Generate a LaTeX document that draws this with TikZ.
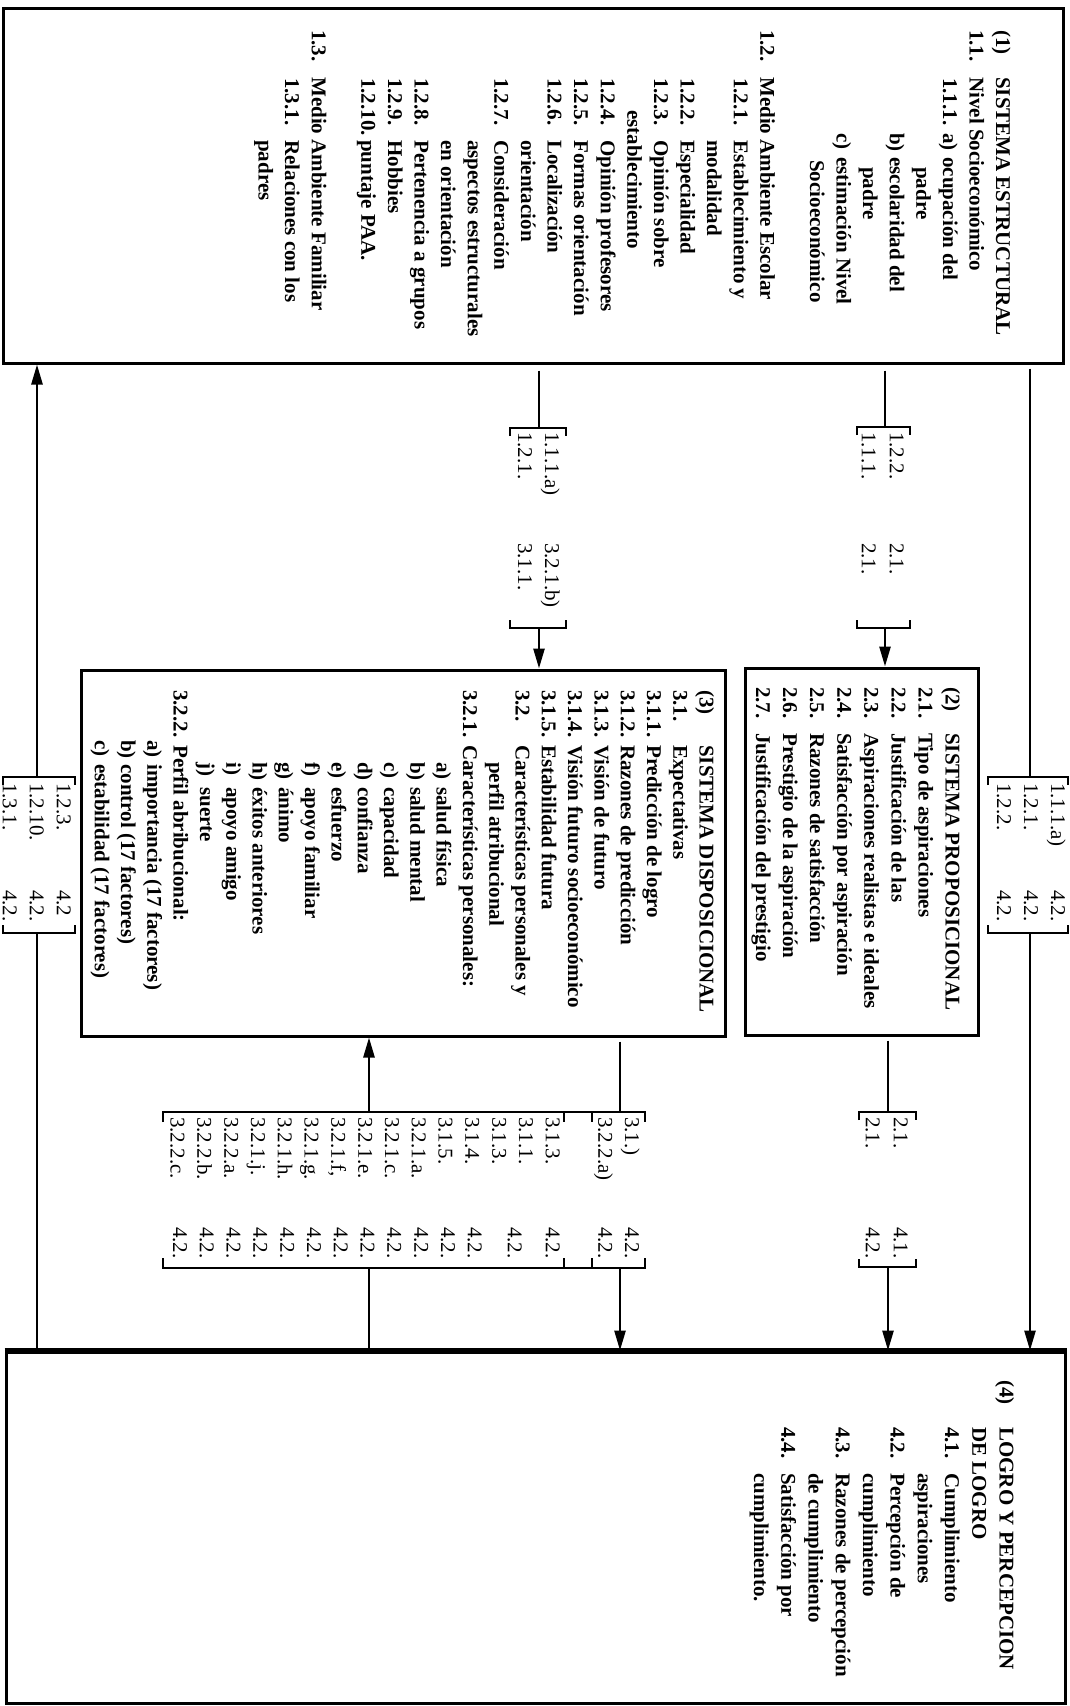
\documentclass[tikz,border=0pt]{standalone}
\usepackage{fontspec}
\setmainfont{Liberation Serif}
\usetikzlibrary{arrows.meta}
\newcommand\numbox[2]{\makebox[#1pt][l]{#2}}
\begin{document}
\begin{tikzpicture}[x=1pt,y=-1pt,
  boxframe/.style={draw, line width=3pt, inner sep=0pt},
  boxtext/.style={rotate=-90, anchor=north west, inner sep=0pt, align=left, font=\fontsize{21}{#1}\selectfont\bfseries},
  labeltext/.style={rotate=-90, anchor=north west, inner sep=0pt, align=left, font=\fontsize{21}{#1}\selectfont},
  conn/.style={line width=2.6pt},
  arr/.style={line width=2.6pt, -{Triangle[length=20pt,width=11pt]}},
  brk/.style={line width=1.8pt},
]
\fill[white] (0,0) rectangle (1070,1706);
\useasboundingbox (0,0) rectangle (1070,1706);

% boxes
\node[boxframe, minimum width=1060pt, minimum height=355pt] (b1) at (533,185.5) {};
\node[boxframe, minimum width=233pt, minimum height=367pt] (b2) at (861.5,851.5) {};
\node[boxframe, minimum width=644pt, minimum height=366pt] (b3) at (403,853) {};
\node[boxframe, minimum width=1059pt, minimum height=351pt] (b4) at (535.5,1527.5) {};
\draw[line width=4.5pt] (b4.north west) -- (b4.north east);

% box texts
\node[boxtext=26.6] (t1) at (1011,30) {%
\numbox{47}{(1)}SISTEMA ESTRUCTURAL\\
\numbox{47}{1.1.}Nivel Socioeconómico\\
\hspace*{48pt}\numbox{55}{1.1.1.}\numbox{24}{a)}ocupación del\\
\hspace*{137pt}padre\\
\hspace*{103pt}\numbox{24}{b)}escolaridad del\\
\hspace*{137pt}padre\\
\hspace*{103pt}\numbox{24}{c)}estimación Nivel\\
\hspace*{130pt}Socioeconómico\\[23pt]
\numbox{47}{1.2.}Medio Ambiente Escolar\\
\hspace*{48pt}\numbox{62}{1.2.1.}Establecimiento y\\
\hspace*{110pt}modalidad\\
\hspace*{48pt}\numbox{62}{1.2.2.}Especialidad\\
\hspace*{48pt}\numbox{62}{1.2.3.}Opinión sobre\\
\hspace*{80pt}establecimiento\\
\hspace*{48pt}\numbox{62}{1.2.4.}Opinión profesores\\
\hspace*{48pt}\numbox{62}{1.2.5.}Formas orientación\\
\hspace*{48pt}\numbox{62}{1.2.6.}Localización\\
\hspace*{110pt}orientación\\
\hspace*{48pt}\numbox{62}{1.2.7.}Consideración\\
\hspace*{110pt}aspectos estructurales\\
\hspace*{110pt}en orientación\\
\hspace*{48pt}\numbox{62}{1.2.8.}Pertenencia a grupos\\
\hspace*{48pt}\numbox{62}{1.2.9.}Hobbies\\
\hspace*{48pt}\numbox{62}{1.2.10.}puntaje PAA.\\[23pt]
\numbox{47}{1.3.}Medio Ambiente Familiar\\
\hspace*{48pt}\numbox{62}{1.3.1.}Relaciones con los\\
\hspace*{110pt}padres};

\node[boxtext=27.1] (t2) at (960.5,687) {%
\numbox{46}{(2)}SISTEMA PROPOSICIONAL\\
\numbox{46}{2.1.}Tipo de aspiraciones\\
\numbox{46}{2.2.}Justificación de las\\
\numbox{46}{2.3.}Aspiraciones realistas e ideales\\
\numbox{46}{2.4.}Satisfacción por aspiración\\
\numbox{46}{2.5.}Razones de satisfacción\\
\numbox{46}{2.6.}Prestigio de la aspiración\\
\numbox{46}{2.7.}Justificación del prestigio};

\node[boxtext=26.3] (t3) at (714.5,690) {%
\numbox{55}{(3)}SISTEMA DISPOSICIONAL\\
\numbox{55}{3.1.}Expectativas\\
\numbox{55}{3.1.1.}Predicción de logro\\
\numbox{55}{3.1.2.}Razones de predicción\\
\numbox{55}{3.1.3.}Visión de futuro\\
\numbox{55}{3.1.4.}Visión futuro socioeconómico\\
\numbox{55}{3.1.5.}Estabilidad futura\\
\numbox{55}{3.2.}Características personales y\\
\hspace*{72pt}perfil atribucional\\
\numbox{55}{3.2.1.}Características personales:\\
\hspace*{72pt}\numbox{25}{a)}salud física\\
\hspace*{72pt}\numbox{25}{b)}salud mental\\
\hspace*{72pt}\numbox{25}{c)}capacidad\\
\hspace*{72pt}\numbox{25}{d)}confianza\\
\hspace*{72pt}\numbox{25}{e)}esfuerzo\\
\hspace*{72pt}\numbox{25}{f)}apoyo familiar\\
\hspace*{72pt}\numbox{25}{g)}ánimo\\
\hspace*{72pt}\numbox{25}{h)}éxitos anteriores\\
\hspace*{72pt}\numbox{25}{i)}apoyo amigo\\
\hspace*{72pt}\numbox{25}{j)}suerte\\
\numbox{55}{3.2.2.}Perfil abribucional:\\
\hspace*{50pt}\numbox{24}{a)}importancia (17 factores)\\
\hspace*{50pt}\numbox{24}{b)}control (17 factores)\\
\hspace*{50pt}\numbox{24}{c)}estabilidad (17 factores)};

\node[boxtext=27.3] (t4) at (1014.5,1380) {%
\numbox{47}{(4)}LOGRO Y PERCEPCION\\
\hspace*{47pt}DE LOGRO\\
\hspace*{47pt}\numbox{46}{4.1.}Cumplimiento\\
\hspace*{93pt}aspiraciones\\
\hspace*{47pt}\numbox{46}{4.2.}Percepción de\\
\hspace*{93pt}cumplimiento\\
\hspace*{47pt}\numbox{46}{4.3.}Razones de percepción\\
\hspace*{93pt}de cumplimiento\\
\hspace*{47pt}\numbox{46}{4.4.}Satisfacción por\\
\hspace*{93pt}cumplimiento.};

% labels
\node[labeltext=27] (l1) at (1066,783) {\numbox{107}{1.1.1.a)}4.2.\\\numbox{107}{1.2.1.}4.2.\\\numbox{107}{1.2.2.}4.2.};
\node[labeltext=28] (l2) at (904,432) {\numbox{111}{1.2.2.}2.1.\\\numbox{111}{1.1.1.}2.1.};
\node[labeltext=27] (l3) at (560,432) {\numbox{111}{1.1.1.a)}3.2.1.b)\\\numbox{111}{1.2.1.}3.1.1.};
\node[labeltext=27] (l4) at (71,783) {\numbox{107}{1.2.3.}4.2\\\numbox{107}{1.2.10.}4.2.\\\numbox{107}{1.3.1.}4.2.};
\node[labeltext=28] (l5) at (908,1117) {\numbox{110}{2.1.}4.1.\\\numbox{110}{2.1.}4.2.};
\node[labeltext=26.8] (l6) at (640,1117) {\numbox{110}{3.1.)}4.2.\\\numbox{110}{3.2.2.a)}4.2.};
\node[labeltext=26.8] (l7) at (560,1117) {3.1.3.\\3.1.1.\\3.1.3.\\3.1.4.\\3.1.5.\\3.2.1.a.\\3.2.1.c.\\3.2.1.e.\\3.2.1.f,\\3.2.1.g.\\3.2.1.h.\\3.2.1.j.\\3.2.2.a.\\3.2.2.b.\\3.2.2.c.};
\node[labeltext=26.8] (l7r) at (560,1227) {4.2.\\[11.2pt]4.2.\\[13.2pt]4.2.\\4.2.\\4.2.\\4.2.\\4.2.\\4.2.\\4.2.\\4.2.\\4.2.\\4.2.\\4.2.\\4.2.};

% bracket attachment points
\coordinate (k1t) at (1030,777); \coordinate (k1b) at (1030,933);
\coordinate (k2t) at (885,427);  \coordinate (k2b) at (885,628);
\coordinate (k3t) at (539,428);  \coordinate (k3b) at (539,628);
\coordinate (k4t) at (37,777);   \coordinate (k4b) at (37,933);
\coordinate (k5t) at (888,1112); \coordinate (k5b) at (888,1267);
\coordinate (k6t) at (620,1112); \coordinate (k6b) at (620,1268);
\coordinate (k7t) at (369,1112); \coordinate (k7b) at (369,1268);

% brackets
\draw[brk] (988,785) -- (988,777) -- (1068,777) -- (1068,785);
\draw[brk] (988,925) -- (988,933) -- (1068,933) -- (1068,925);
\draw[brk] (857,435) -- (857,427) -- (910,427) -- (910,435);
\draw[brk] (857,620) -- (857,628) -- (910,628) -- (910,620);
\draw[brk] (510,436) -- (510,428) -- (566,428) -- (566,436);
\draw[brk] (510,620) -- (510,628) -- (566,628) -- (566,620);
\draw[brk] (3,785) -- (3,777) -- (75,777) -- (75,785);
\draw[brk] (3,925) -- (3,933) -- (75,933) -- (75,925);
\draw[brk] (859,1120) -- (859,1112) -- (916,1112) -- (916,1120);
\draw[brk] (859,1259) -- (859,1267) -- (916,1267) -- (916,1259);
\draw[brk] (163,1122) -- (163,1112) -- (645,1112) -- (645,1122);
\draw[brk] (163,1258) -- (163,1268) -- (645,1268) -- (645,1258);
\draw[brk] (564,1112) -- (564,1122); \draw[brk] (592,1112) -- (592,1122);
\draw[brk] (564,1268) -- (564,1258); \draw[brk] (592,1268) -- (592,1258);

% connectors
\draw[conn, shorten <=4pt] (b1.south -| k1t) -- (k1t);
\draw[arr] (k1b) -- (b4.north -| k1b);
\draw[conn, shorten <=6pt] (b1.south -| k2t) -- (k2t);
\draw[arr] (k2b) -- (b2.north -| k2b);
\draw[conn, shorten <=6pt] (b1.south -| k3t) -- (k3t);
\draw[arr] (k3b) -- (b3.north -| k3b);
\draw[conn] (b4.north -| k4b) -- (k4b);
\draw[arr] (k4t) -- (b1.south -| k4t);
\draw[conn, shorten <=4pt] (b2.south -| k5t) -- (k5t);
\draw[arr] (k5b) -- (b4.north -| k5b);
\draw[conn, shorten <=4pt] (b3.south -| k6t) -- (k6t);
\draw[arr] (k6b) -- (b4.north -| k6b);
\draw[conn] (b4.north -| k7b) -- (k7b);
\draw[arr] (k7t) -- (b3.south -| k7t);
\end{tikzpicture}
\end{document}
